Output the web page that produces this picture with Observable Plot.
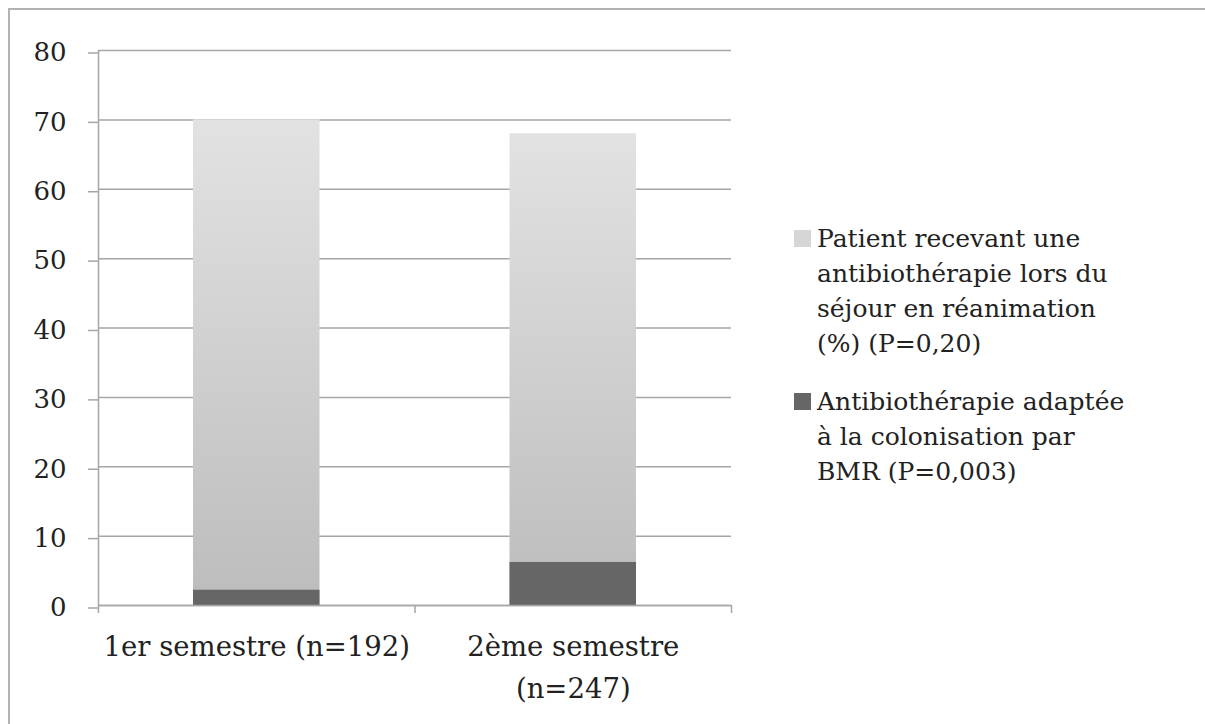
<!DOCTYPE html>
<html><head><meta charset="utf-8">
<script src="https://cdn.jsdelivr.net/npm/d3@7"></script>
<script src="https://cdn.jsdelivr.net/npm/@observablehq/plot@0.6"></script>
<style>
body{margin:0;background:#fff;width:1205px;height:724px;overflow:hidden;position:relative;font-family:"DejaVu Serif";}
#frame{position:absolute;left:8px;top:8px;width:1300px;height:800px;border-left:2px solid #b3b3b3;border-top:2px solid #b3b3b3;}
#chart{position:absolute;left:0;top:0;}
#chart rect[fill^="url"]{filter:drop-shadow(0 0 2px rgba(0,0,0,0.18));}
.item{position:absolute;left:817px;font-size:25px;color:#222;line-height:35px;white-space:nowrap;}
.sw{position:absolute;width:17px;height:17px;left:-23px;}
</style></head>
<body>
<div id="frame"></div>
<div id="chart"></div>
<div id="legend"></div>
<script>
const categories = ["1er semestre (n=192)", "2ème semestre\n(n=247)"];
const antibio = [70, 68];
const adaptee = [2.2, 6.2];
const yTicks = [0, 10, 20, 30, 40, 50, 60, 70, 80];
const seriesNames = [
  ["Patient recevant une", "antibiothérapie lors du", "séjour en réanimation", "(%) (P=0,20)"],
  ["Antibiothérapie adaptée", "à la colonisation par", "BMR (P=0,003)"]
];
const seriesColors = ["#d6d6d6", "#666666"];

const rows = categories.map((c, i) => ({i, c, antibio: antibio[i], adaptee: adaptee[i]}));

const plot = Plot.plot({
  width: 1205, height: 724,
  marginLeft: 98, marginRight: 474, marginTop: 50, marginBottom: 119,
  x: {domain: [0, categories.length], axis: null},
  y: {domain: [0, 80], axis: null},
  style: {fontFamily: "DejaVu Serif", fontSize: "26px", color: "#222", background: "transparent"},
  marks: [
    Plot.ruleY(yTicks, {stroke: "#a6a6a6", strokeWidth: 1.5}),
    Plot.axisY({ticks: yTicks, tickSize: 10, tickPadding: 22, dy: 2.5, stroke: "#a6a6a6", strokeWidth: 1.5, fill: "#222", fontSize: 26, label: null}),
    Plot.rectY(rows, {x1: d => d.i, x2: d => d.i + 1, y: "antibio", insetLeft: 95, insetRight: 95, fill: "url(#lightGrad)"}),
    Plot.rectY(rows, {x1: d => d.i, x2: d => d.i + 1, y: "adaptee", insetLeft: 95, insetRight: 95, fill: seriesColors[1]}),
    Plot.ruleX([0], {stroke: "#a6a6a6", strokeWidth: 1.5}),
    Plot.ruleY([0], {stroke: "#a6a6a6", strokeWidth: 1.5}),
    Plot.axisX({ticks: d3.range(categories.length + 1), tickSize: 8, tickFormat: () => "", stroke: "#a6a6a6", strokeWidth: 1.5, label: null}),
    Plot.text(rows, {x: d => d.i + 0.5, y: 0, text: "c", lineAnchor: "top", dy: 21, lineHeight: 1.53, fontSize: 27.5, fill: "#222"})
  ]
});
const defs = d3.select(plot).insert("defs", ":first-child");
const g = defs.append("linearGradient").attr("id", "lightGrad").attr("x1", 0).attr("y1", 0).attr("x2", 0).attr("y2", 1);
g.append("stop").attr("offset", 0).attr("stop-color", "#e2e2e2");
g.append("stop").attr("offset", 1).attr("stop-color", "#bcbcbc");
document.getElementById("chart").appendChild(plot);

const tops = [221, 384];
const legend = d3.select("#legend");
seriesNames.forEach((lines, k) => {
  const it = legend.append("div").attr("class", "item").style("top", tops[k] + "px");
  it.append("div").attr("class", "sw").style("top", "9px").style("background", seriesColors[k]);
  it.append("span").html(lines.join("<br>"));
});
</script>
</body></html>
